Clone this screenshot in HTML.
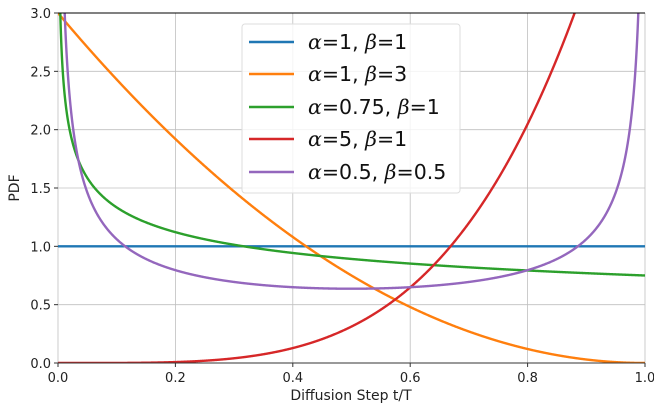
<!DOCTYPE html>
<html><head><meta charset="utf-8"><style>
body{margin:0;background:#fff}
svg{display:block;font-family:"DejaVu Sans","Liberation Sans",sans-serif}
.g{font-family:"DejaVu Serif","Liberation Serif",serif;font-style:italic}
</style></head><body>
<svg id="s" width="654" height="406" viewBox="0 0 654 406">
<defs><clipPath id="c"><rect x="58" y="13" width="587" height="350"/></clipPath></defs>
<g id="grid" stroke="#b0b0b0" stroke-width="0.8" opacity="0.8"></g>
<g id="curves" clip-path="url(#c)" fill="none" stroke-width="2.4"></g>
<line x1="58" y1="13" x2="645" y2="13" stroke="#000" stroke-width="1"/>
<line x1="58" y1="363" x2="645" y2="363" stroke="#333" stroke-width="1"/>
<g id="ticks" font-size="13" fill="#222"></g>
<text x="351" y="400" font-size="14" text-anchor="middle" fill="#222">Diffusion Step t/T</text>
<text transform="translate(19,188) rotate(-90)" font-size="14" text-anchor="middle" fill="#222">PDF</text>
<rect x="242" y="24" width="218" height="169" rx="3" fill="#fff" fill-opacity="0.8" stroke="#ddd"/>
<g font-size="20.5" fill="#111" stroke-width="2.4">
<line x1="249" y1="42" x2="294" y2="42" stroke="#1f77b4"/><text x="308" y="49"><tspan class="g">α</tspan>=1, <tspan class="g">β</tspan>=1</text>
<line x1="249" y1="74" x2="294" y2="74" stroke="#ff7f0e"/><text x="308" y="81"><tspan class="g">α</tspan>=1, <tspan class="g">β</tspan>=3</text>
<line x1="249" y1="107" x2="294" y2="107" stroke="#2ca02c"/><text x="308" y="114"><tspan class="g">α</tspan>=0.75, <tspan class="g">β</tspan>=1</text>
<line x1="249" y1="139" x2="294" y2="139" stroke="#d62728"/><text x="308" y="146"><tspan class="g">α</tspan>=5, <tspan class="g">β</tspan>=1</text>
<line x1="249" y1="172" x2="294" y2="172" stroke="#9467bd"/><text x="308" y="179"><tspan class="g">α</tspan>=0.5, <tspan class="g">β</tspan>=0.5</text>
</g>
</svg>
<script>
var X=t=>58+587*t, Y=v=>363-116.667*v, ns="http://www.w3.org/2000/svg";
function el(p,n,a,txt){var e=document.createElementNS(ns,n);for(var k in a)e.setAttribute(k,a[k]);if(txt)e.textContent=txt;document.getElementById(p).appendChild(e);}
for(var i=0;i<=5;i++){var x=X(i/5);el("grid","line",{x1:x,y1:13,x2:x,y2:363});
el("ticks","line",{x1:x,y1:363,x2:x,y2:367,stroke:"#333"});
el("ticks","text",{x:x,y:382,"text-anchor":"middle"},(i/5).toFixed(1));}
for(var i=0;i<=6;i++){var y=Y(i/2);el("grid","line",{x1:58,y1:y,x2:645,y2:y});
el("ticks","line",{x1:54,y1:y,x2:58,y2:y,stroke:"#333"});
el("ticks","text",{x:51,y:y+5,"text-anchor":"end"},(i/2).toFixed(1));}
var f=[[t=>1,"#1f77b4"],[t=>3*(1-t)*(1-t),"#ff7f0e"],[t=>0.75*Math.pow(t,-0.25),"#2ca02c"],[t=>5*Math.pow(t,4),"#d62728"],[t=>1/(Math.PI*Math.sqrt(t*(1-t))),"#9467bd"]];
f.forEach(function(c){var d="";for(var i=0;i<=2000;i++){var t=0.00001+i/2000*0.99998;var v=Math.min(c[0](t),4);d+=(i?"L":"M")+X(t).toFixed(2)+" "+Y(v).toFixed(2);}
el("curves","path",{d:d,stroke:c[1]});});
</script>
</body></html>
